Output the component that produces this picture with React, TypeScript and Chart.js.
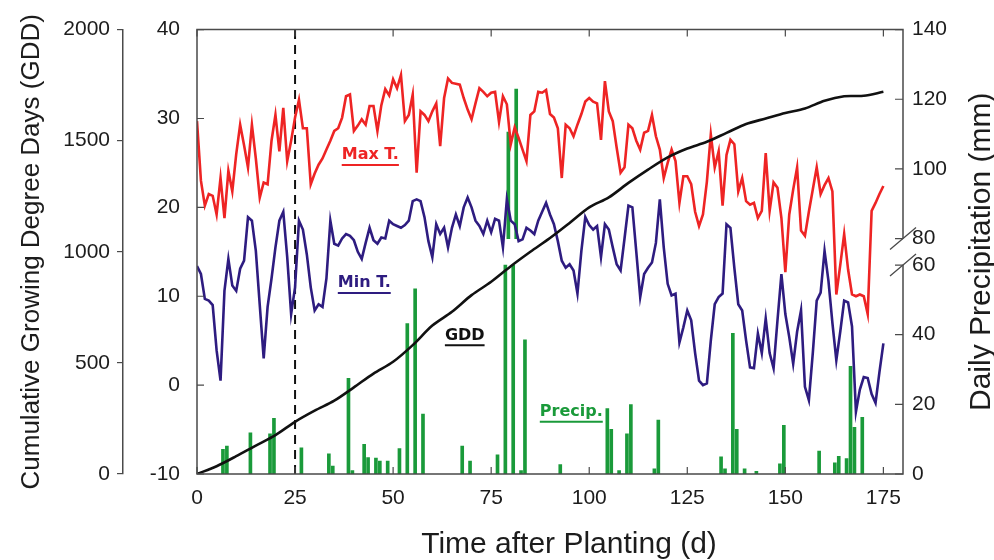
import React, { useEffect, useRef } from "react";
import { Chart, registerables } from "chart.js";

Chart.register(...registerables);

// ---------- data ----------
const xTickValues = [0, 25, 50, 75, 100, 125, 150, 175];
const tempTickValues = [-10, 0, 10, 20, 30, 40];
const gddTickValues = [0, 500, 1000, 1500, 2000];
const plantingMarkDay = 25;

// Daily maximum temperature (°C), day 0..175
const maxT = [
  29.7, 23.0, 20.2, 21.5, 21.3, 19.2, 23.3, 18.8, 24.1, 21.8,
  26.0, 29.3, 27.0, 24.5, 29.3, 25.5, 21.1, 22.8, 22.6, 27.5,
  30.4, 26.3, 31.2, 25.2, 27.5, 30.1, 32.1, 28.9, 28.9, 22.6,
  23.8, 24.8, 25.5, 26.5, 27.5, 28.6, 28.9, 30.1, 32.5, 32.7,
  28.6, 29.2, 29.9, 29.3, 31.4, 31.4, 28.6, 31.5, 33.3, 32.6,
  34.4, 33.4, 34.9, 29.7, 30.4, 32.7, 23.9, 30.8, 30.4, 29.7,
  30.8, 31.7, 26.9, 32.3, 34.5, 34.0, 33.9, 33.8, 32.3, 31.0,
  29.9, 31.7, 33.4, 33.0, 32.5, 32.9, 33.0, 29.6, 32.5, 31.6,
  27.1, 29.0, 27.8, 26.5, 25.2, 30.4, 30.8, 33.0, 32.9, 33.2,
  30.5, 30.1, 28.9, 23.3, 29.3, 28.9, 28.0, 29.3, 30.5, 31.9,
  32.3, 31.9, 31.7, 27.6, 34.2, 30.8, 29.7, 26.7, 23.9, 24.5,
  29.3, 28.9, 27.5, 26.5, 28.4, 28.6, 30.4, 28.0, 26.5, 23.3,
  25.0, 26.5, 25.2, 20.5, 23.5, 23.5, 22.6, 19.5, 17.9, 19.2,
  22.9, 28.2, 24.5, 26.3, 20.2, 25.9, 27.6, 27.1, 21.8, 23.3,
  20.7, 20.3, 20.5, 18.8, 19.6, 26.1, 19.6, 22.8, 22.2, 18.8,
  12.7, 19.2, 22.0, 24.5, 17.4, 16.8, 19.5, 22.0, 24.5, 21.5,
  22.5, 23.3, 21.8, 10.2, 13.5, 17.0, 13.0, 10.2, 10.0, 10.2,
  10.0, 8.0, 19.6, 20.5, 21.5, 22.4,
];

// Daily minimum temperature (°C), day 0..175
const minT = [
  13.4, 12.5, 9.7, 9.5, 9.0, 3.9, 0.5, 10.6, 14.2, 11.2,
  10.6, 13.1, 14.0, 18.9, 18.5, 15.1, 9.0, 3.0, 8.8, 12.0,
  15.5, 18.5, 19.5, 14.4, 8.0, 11.0, 18.5, 17.5, 14.7, 11.0,
  8.4, 9.1, 8.8, 12.0, 18.5, 15.9, 15.7, 16.5, 17.0, 16.8,
  16.3, 15.0, 14.2, 16.0, 17.7, 16.3, 15.9, 16.6, 16.5, 18.5,
  18.1, 17.9, 17.7, 18.0, 18.5, 20.7, 20.9, 20.7, 18.9, 16.2,
  14.4, 18.1, 17.0, 17.7, 15.5, 17.7, 19.2, 17.9, 20.0, 21.1,
  20.0, 18.5, 17.9, 17.0, 18.5, 17.2, 18.7, 18.5, 15.5, 20.9,
  18.5, 18.1, 16.2, 16.4, 17.7, 17.4, 17.0, 18.5, 19.5, 20.5,
  19.2, 18.1, 16.2, 14.0, 13.2, 13.6, 12.9, 10.3, 15.1, 18.9,
  18.0, 17.5, 17.9, 14.4, 18.1, 17.5, 15.5, 13.6, 12.9, 16.5,
  20.2, 20.0, 15.0, 9.9, 12.5, 13.2, 13.8, 16.0, 20.9, 15.5,
  11.4, 10.1, 10.3, 4.8, 6.5, 8.4, 7.3, 3.6, 0.5, 0.0,
  0.2, 5.0, 9.1, 9.9, 10.3, 18.1, 17.7, 13.2, 9.1, 8.4,
  5.0, 2.0, 1.9, 5.8, 3.6, 7.5, 3.6, 1.9, 7.3, 12.5,
  8.0, 5.4, 2.4, 6.0, 8.4, -0.2, -1.7, 3.6, 9.5, 10.4,
  15.1, 11.7, 7.0, 2.8, 6.0, 9.5, 9.3, 6.6, -3.0, -0.5,
  0.9, 0.8, -1.0, -2.0, 1.5, 4.7,
];

// Cumulative growing degree days
const gddDays = [0, 5, 10, 15, 20, 25, 30, 35, 40, 45, 50, 55, 60, 65, 70, 75, 80, 85, 90, 95, 100, 105, 110, 115, 120, 125, 130, 135, 140, 145, 150, 155, 160, 165, 170, 175];
const gddValues = [0, 35, 80, 128, 175, 235, 285, 330, 390, 452, 505, 580, 668, 730, 805, 865, 935, 1000, 1062, 1130, 1200, 1245, 1310, 1370, 1425, 1465, 1495, 1535, 1575, 1600, 1625, 1645, 1680, 1700, 1702, 1720];

// Daily precipitation (mm)
const precipDays = [0, 7, 8, 14, 19, 20, 27, 34, 35, 39, 40, 43, 44, 46, 47, 49, 52, 54, 56, 58, 68, 70, 77, 79, 81, 83, 84, 93, 105, 106, 108, 110, 111, 117, 118, 134, 135, 137, 138, 140, 143, 149, 150, 159, 163, 164, 166, 167, 168, 170];
const precipMm = [2, 7.1, 8.0, 11.8, 11.5, 16, 7.5, 5.8, 2.3, 27.5, 1, 8.5, 4.7, 4.6, 3.7, 3.7, 7.3, 43.2, 53.2, 17.2, 8, 3.7, 5.5, 110.6, 122.9, 1, 38.5, 2.7, 18.8, 12.8, 1, 11.5, 19.9, 1.5, 15.5, 4.9, 1.5, 40.4, 12.8, 1.5, 0.8, 2.9, 14, 6.6, 3.2, 5.1, 4.4, 30.9, 13.4, 16.3];
const precipTickLabels = [0, 20, 40, 60, 80, 100, 120, 140];

// broken precipitation axis: 60..80 mm squeezed into a short gap
const BREAK_LOW = 60;
const BREAK_HIGH = 80;
const BREAK_UNITS = 7.6;
const toPrecipDisplay = (mm: number) =>
  mm <= BREAK_LOW ? mm : mm - (BREAK_HIGH - BREAK_LOW) + BREAK_UNITS;

// in-plot labels (day, °C)
const seriesLabels = [
  { text: "Max T.", day: 36.9, temp: 25.9, color: "#ee2424" },
  { text: "Min T.", day: 35.9, temp: 11.5, color: "#2e1c80" },
  { text: "GDD", day: 63.2, temp: 5.6, color: "#111111" },
  { text: "Precip.", day: 87.4, temp: -3.0, color: "#1a9a3a" },
];

const RED = "#ee2424";
const BLUE = "#2e1c80";
const GREEN = "#1a9a3a";
const FRAME = "#4a4a4a";
const TEXT = "#1c1c1c";
const FONT = "'Liberation Sans', Arial, Helvetica, sans-serif";

const decorPlugin = {
  id: "decor",
  afterDraw(chart: any) {
    const { ctx, chartArea: a, scales } = chart;
    const sx = scales.x;
    const sT = scales.yT;
    const sP = scales.yP;
    const yHi = sP.getPixelForValue(toPrecipDisplay(BREAK_HIGH));
    const yLo = sP.getPixelForValue(toPrecipDisplay(BREAK_LOW));
    ctx.save();
    // frame, with the right side broken at the axis break
    ctx.strokeStyle = FRAME;
    ctx.lineWidth = 1.5;
    ctx.beginPath();
    ctx.moveTo(a.right, yHi);
    ctx.lineTo(a.right, a.top);
    ctx.lineTo(a.left, a.top);
    ctx.lineTo(a.left, a.bottom);
    ctx.lineTo(a.right, a.bottom);
    ctx.lineTo(a.right, yLo);
    ctx.stroke();
    // inward ticks
    ctx.lineWidth = 1.2;
    ctx.beginPath();
    for (const t of sT.ticks) {
      const y = sT.getPixelForValue(t.value);
      ctx.moveTo(a.left, y);
      ctx.lineTo(a.left + 7, y);
    }
    for (const t of sP.ticks) {
      const y = sP.getPixelForValue(t.value);
      ctx.moveTo(a.right, y);
      ctx.lineTo(a.right - 8, y);
    }
    for (const t of sx.ticks) {
      const x = sx.getPixelForValue(t.value);
      ctx.moveTo(x, a.bottom);
      ctx.lineTo(x, a.bottom - 7);
      ctx.moveTo(x, a.top);
      ctx.lineTo(x, a.top + 7);
    }
    ctx.stroke();
    // break slashes
    ctx.lineWidth = 1.3;
    ctx.beginPath();
    for (const y of [yHi, yLo]) {
      ctx.moveTo(a.right - 13, y + 11);
      ctx.lineTo(a.right + 13, y - 11);
    }
    ctx.stroke();
    // x axis title
    ctx.fillStyle = TEXT;
    ctx.textAlign = "center";
    ctx.textBaseline = "middle";
    ctx.font = `30px ${FONT}`;
    ctx.fillText("Time after Planting (d)", 569, 545);
    // right axis title (reads bottom to top)
    ctx.translate(982, (a.top + a.bottom) / 2);
    ctx.rotate(-Math.PI / 2);
    ctx.fillText("Daily Precipitation (mm)", 0, 0);
    ctx.setTransform(1, 0, 0, 1, 0, 0);
    // series labels, bold and underlined
    ctx.font = `bold 16px 'DejaVu Sans', ${FONT}`;
    ctx.textAlign = "left";
    ctx.textBaseline = "middle";
    for (const l of seriesLabels) {
      const x = sx.getPixelForValue(l.day);
      const y = sT.getPixelForValue(l.temp);
      ctx.fillStyle = l.color;
      ctx.strokeStyle = l.color;
      ctx.fillText(l.text, x, y);
      const w = ctx.measureText(l.text).width;
      ctx.lineWidth = 2;
      ctx.beginPath();
      ctx.moveTo(x, y + 10);
      ctx.lineTo(x + w, y + 10);
      ctx.stroke();
    }
    ctx.restore();
  },
};

export default function App() {
  const canvasRef = useRef<HTMLCanvasElement | null>(null);

  useEffect(() => {
    const canvas = canvasRef.current;
    if (!canvas) return;

    const lowerBars = precipDays.map((d, i) => ({
      x: d,
      y: [0, toPrecipDisplay(Math.min(precipMm[i], BREAK_LOW))],
    }));
    const upperBars = precipDays
      .map((d, i) => ({ d, v: precipMm[i] }))
      .filter((p) => p.v > BREAK_LOW)
      .map((p) => ({ x: p.d, y: [toPrecipDisplay(BREAK_HIGH), toPrecipDisplay(p.v)] }));

    const chart = new Chart(canvas, {
      type: "line",
      data: {
        datasets: [
          {
            type: "line",
            label: "Max T.",
            data: maxT.map((v, i) => ({ x: i, y: v })),
            yAxisID: "yT",
            borderColor: RED,
            borderWidth: 2.6,
            pointRadius: 0,
            tension: 0,
            order: 1,
          },
          {
            type: "line",
            label: "Min T.",
            data: minT.map((v, i) => ({ x: i, y: v })),
            yAxisID: "yT",
            borderColor: BLUE,
            borderWidth: 2.6,
            pointRadius: 0,
            tension: 0,
            order: 2,
          },
          {
            type: "line",
            label: "GDD",
            data: gddDays.map((d, i) => ({ x: d, y: gddValues[i] })),
            yAxisID: "yG",
            borderColor: "#111111",
            borderWidth: 2.6,
            pointRadius: 0,
            tension: 0.3,
            order: 0,
          },
          {
            type: "line",
            label: "planting mark",
            data: [
              { x: plantingMarkDay, y: -10 },
              { x: plantingMarkDay, y: 40 },
            ],
            yAxisID: "yT",
            borderColor: "#111111",
            borderWidth: 2,
            borderDash: [9, 6],
            pointRadius: 0,
            order: 3,
          },
          {
            type: "bar",
            label: "Precip.",
            data: lowerBars as any,
            yAxisID: "yP",
            backgroundColor: GREEN,
            borderWidth: 0,
            barThickness: 3,
            order: 5,
          },
          {
            type: "bar",
            label: "Precip. (above break)",
            data: upperBars as any,
            yAxisID: "yP",
            backgroundColor: GREEN,
            borderWidth: 0,
            barThickness: 3,
            order: 5,
          },
        ],
      },
      options: {
        responsive: false,
        animation: false,
        devicePixelRatio: 1,
        layout: { padding: { top: 28, left: 0, right: 0, bottom: 0 } },
        plugins: { legend: { display: false }, tooltip: { enabled: false } },
        scales: {
          x: {
            type: "linear",
            position: "bottom",
            min: 0,
            max: 180,
            offset: false,
            afterBuildTicks: (s: any) => {
              s.ticks = xTickValues.map((v) => ({ value: v }));
            },
            afterFit: (s: any) => {
              s.height = 86;
            },
            grid: { display: false, drawTicks: false },
            border: { display: false },
            ticks: {
              padding: 12,
              color: TEXT,
              font: { family: FONT, size: 21 },
              maxRotation: 0,
              callback: (v: any) => String(v),
            },
          },
          yT: {
            type: "linear",
            position: "left",
            weight: 0,
            min: -10,
            max: 40,
            afterBuildTicks: (s: any) => {
              s.ticks = tempTickValues.map((v) => ({ value: v }));
            },
            afterFit: (s: any) => {
              s.width = 74;
            },
            grid: { display: false, drawTicks: false },
            border: { display: false },
            ticks: { padding: 17, color: TEXT, font: { family: FONT, size: 21 }, callback: (v: any) => String(v) },
          },
          yG: {
            type: "linear",
            position: "left",
            weight: 10,
            min: 0,
            max: 2000,
            afterBuildTicks: (s: any) => {
              s.ticks = gddTickValues.map((v) => ({ value: v }));
            },
            afterFit: (s: any) => {
              s.width = 123;
            },
            grid: {
              display: true,
              drawOnChartArea: false,
              drawTicks: true,
              tickLength: 6,
              color: FRAME,
              lineWidth: 1.2,
            },
            border: { display: true, color: FRAME, width: 1.5 },
            ticks: { padding: 7, color: TEXT, font: { family: FONT, size: 21 }, callback: (v: any) => String(v) },
            title: {
              display: true,
              text: "Cumulative Growing Degree Days (GDD)",
              color: TEXT,
              font: { family: FONT, size: 26, lineHeight: 1.2 },
              padding: { top: 16, bottom: 0 },
            },
          },
          yP: {
            type: "linear",
            position: "right",
            min: 0,
            max: toPrecipDisplay(140),
            afterBuildTicks: (s: any) => {
              s.ticks = precipTickLabels.map((v) => ({ value: toPrecipDisplay(v) }));
            },
            afterFit: (s: any) => {
              s.width = 91;
            },
            grid: { display: false, drawTicks: false },
            border: { display: false },
            ticks: {
              padding: 9,
              color: TEXT,
              font: { family: FONT, size: 21 },
              callback: (_v: any, i: number) => String(precipTickLabels[i]),
            },
          },
        },
      },
      plugins: [decorPlugin],
    });

    return () => chart.destroy();
  }, []);

  return (
    <div style={{ position: "absolute", left: 0, top: 0, width: 994, height: 560, background: "#fff" }}>
      <canvas ref={canvasRef} width={994} height={560} style={{ width: 994, height: 560 }} />
    </div>
  );
}
